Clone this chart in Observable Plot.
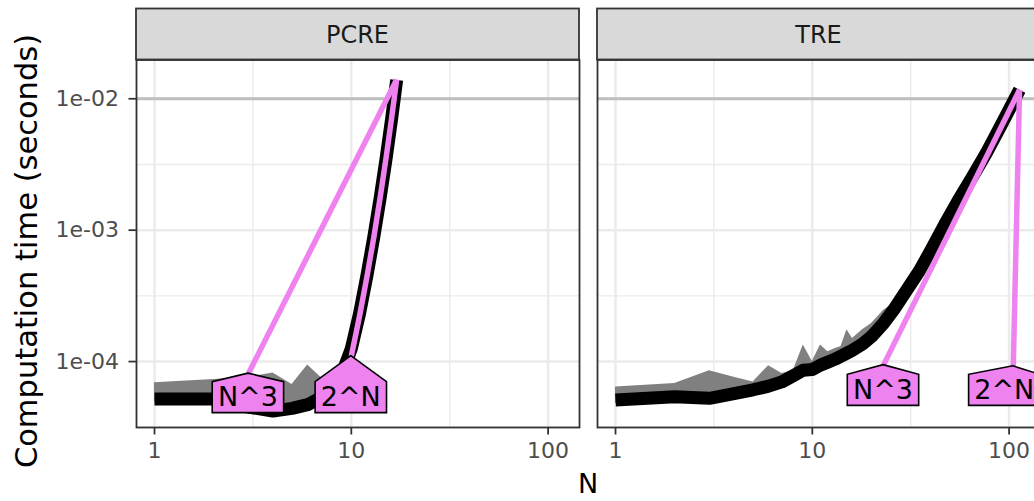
<!DOCTYPE html>
<html><head><meta charset="utf-8">
<script src="https://cdn.jsdelivr.net/npm/d3@7"></script>
<script src="https://cdn.jsdelivr.net/npm/@observablehq/plot@0.6"></script>
<style>
html,body{margin:0;padding:0;background:#fff;overflow:hidden;}
#chart{width:1034px;height:501px;overflow:hidden;}
#chart svg{max-width:none !important;height:501px !important;}
</style></head><body><div id="chart"></div>
<script>
// ---- data ----
const panels = ["PCRE", "TRE"];

const pcreN      = [1, 2, 3, 4, 5, 6, 7, 8, 9, 10, 11, 12, 13, 14, 15, 16, 17];
const pcreMedian = [5.2e-5, 5.2e-5, 4.5e-5, 4.2e-5, 4.4e-5, 4.7e-5, 5.3e-5, 6.3e-5, 8.2e-5, 1.25e-4, 2.3e-4, 4.5e-4, 8.8e-4, 1.74e-3, 3.45e-3, 6.9e-3, 1.39e-2];
const pcreMin    = [4.9e-5, 4.9e-5, 4.3e-5, 4.0e-5, 4.2e-5, 4.4e-5, 5.0e-5, 5.9e-5, 7.8e-5, 1.2e-4, 2.2e-4, 4.35e-4, 8.6e-4, 1.7e-3, 3.4e-3, 6.8e-3, 1.37e-2];
const pcreMax    = [6.9e-5, 7.3e-5, 7.6e-5, 8.2e-5, 6.7e-5, 9.4e-5, 7.6e-5, 7.2e-5, 9.0e-5, 1.35e-4, 2.4e-4, 4.7e-4, 9.1e-4, 1.78e-3, 3.5e-3, 7.0e-3, 1.41e-2];

const treN      = [1, 2, 3, 4, 5, 6, 7, 8, 9, 10, 11, 12, 13, 14, 15, 16, 18, 20, 23, 26, 30, 35, 40, 47, 55, 65, 77, 90, 103, 113];
const treMedian = [5.1e-5, 5.4e-5, 5.25e-5, 5.7e-5, 6.1e-5, 6.5e-5, 7.0e-5, 7.8e-5, 8.6e-5, 8.7e-5, 9.4e-5, 9.9e-5, 1.04e-4, 1.1e-4, 1.16e-4, 1.22e-4, 1.36e-4, 1.55e-4, 1.95e-4, 2.5e-4, 3.45e-4, 4.9e-4, 7.0e-4, 1.1e-3, 1.67e-3, 2.53e-3, 3.92e-3, 6.08e-3, 8.97e-3, 1.17e-2];
const treMin    = [4.8e-5, 5.1e-5, 5.0e-5, 5.4e-5, 5.8e-5, 6.2e-5, 6.6e-5, 7.4e-5, 8.1e-5, 8.2e-5, 8.9e-5, 9.4e-5, 9.9e-5, 1.04e-4, 1.1e-4, 1.16e-4, 1.29e-4, 1.47e-4, 1.85e-4, 2.37e-4, 3.28e-4, 4.65e-4, 6.65e-4, 1.05e-3, 1.59e-3, 2.4e-3, 3.72e-3, 5.78e-3, 8.5e-3, 1.12e-2];
const treMax    = [6.4e-5, 6.8e-5, 8.5e-5, 7.6e-5, 7.0e-5, 9.3e-5, 8.1e-5, 8.5e-5, 1.34e-4, 1.0e-4, 1.34e-4, 1.19e-4, 1.25e-4, 1.3e-4, 1.75e-4, 1.5e-4, 1.75e-4, 1.95e-4, 2.45e-4, 2.8e-4, 3.65e-4, 5.15e-4, 7.3e-4, 1.14e-3, 1.72e-3, 2.6e-3, 4.0e-3, 6.2e-3, 9.1e-3, 1.19e-2];

// asymptotic reference lines
const pcreRefN3N = [3, 17];
const pcreRefN3T = [8.1e-5, 1.4e-2];
const pcreRef2NN = [10, 11, 12, 13, 14, 15, 16, 17];
const pcreRef2NT = [1.1e-4, 2.2e-4, 4.4e-4, 8.75e-4, 1.75e-3, 3.5e-3, 7.0e-3, 1.4e-2];
const treRefN3N  = [23, 113];
const treRefN3T  = [9.4e-5, 1.17e-2];
const treRef2NN  = [105, 113];
const treRef2NT  = [9.2e-5, 1.17e-2];

const secondsLimit = [0.01];

const xTicks = [1, 10, 100];
const xTickLabels = ["1", "10", "100"];
const yTicks = [1e-4, 1e-3, 1e-2];
const yTickLabels = ["1e-04", "1e-03", "1e-02"];
const xTitle = "N";
const yTitle = "Computation time (seconds)";

// ---- tables built from the arrays ----
const series = [
  ...pcreN.map((n, i) => ({panel: "PCRE", N: n, median: pcreMedian[i], min: pcreMin[i], max: pcreMax[i]})),
  ...treN.map((n, i) => ({panel: "TRE", N: n, median: treMedian[i], min: treMin[i], max: treMax[i]}))
];
const refSets = [
  {panel: "PCRE", fun: "N^3", N: pcreRefN3N, T: pcreRefN3T},
  {panel: "PCRE", fun: "2^N", N: pcreRef2NN, T: pcreRef2NT},
  {panel: "TRE", fun: "N^3", N: treRefN3N, T: treRefN3T},
  {panel: "TRE", fun: "2^N", N: treRef2NN, T: treRef2NT}
];
const refs = refSets.flatMap(s => s.N.map((n, i) => ({panel: s.panel, fun: s.fun, key: s.panel + s.fun, N: n, t: s.T[i]})));
const labels = refSets.map(s => ({panel: s.panel, fun: s.fun, N: s.N[0], t: s.T[0]}));

// minor gridlines: midpoints of decades in log space
const xMinor = [Math.pow(10, 0.5), Math.pow(10, 1.5)];
const yMinor = [Math.pow(10, -4.5), Math.pow(10, -3.5), Math.pow(10, -2.5)];

const FONT = "DejaVu Sans";
const marginLeft = 136, marginTop = 59.5, marginBottom = 74, W = 1040, H = 501;

const chart = Plot.plot({
  width: W, height: H,
  marginLeft, marginRight: 0, marginTop, marginBottom,
  style: {fontFamily: FONT, fontSize: "21px", background: "#fff", maxWidth: "none"},
  fx: {domain: panels, paddingInner: 18 / 461, paddingOuter: 0, axis: null, label: null},
  x: {type: "log", domain: [0.81, 144.4], axis: null},
  y: {type: "log", domain: [3.15e-5, 0.01973], axis: null},
  marks: [
    Plot.ruleX(xMinor, {stroke: "#EBEBEB", strokeWidth: 1.4}),
    Plot.ruleY(yMinor, {stroke: "#EBEBEB", strokeWidth: 1.4}),
    Plot.ruleX(xTicks, {stroke: "#EBEBEB", strokeWidth: 2.5}),
    Plot.ruleY(yTicks, {stroke: "#EBEBEB", strokeWidth: 2.5}),
    Plot.ruleY(secondsLimit, {stroke: "#BEBEBE", strokeWidth: 3}),
    Plot.areaY(series, {fx: "panel", x: "N", y1: "min", y2: "max", fill: "#808080"}),
    Plot.line(series, {fx: "panel", x: "N", y: "median", stroke: "black", strokeWidth: 13, strokeLinecap: "butt", strokeLinejoin: "round"}),
    Plot.line(refs, {fx: "panel", x: "N", y: "t", z: "key", stroke: "violet", strokeWidth: 5.5, strokeLinecap: "butt", strokeLinejoin: "round"}),
    Plot.frame({stroke: "#333333", strokeWidth: 1.8}),
    Plot.axisX({ticks: xTicks, tickFormat: d => xTickLabels[xTicks.indexOf(d)], tickSize: 7.5, tickPadding: 7,
      stroke: "#333333", strokeWidth: 1.8, fill: "#4D4D4D", fontSize: 22, label: null}),
    Plot.axisY({ticks: yTicks, tickFormat: d => yTickLabels[yTicks.indexOf(d)], tickSize: 7.5, tickPadding: 10,
      stroke: "#333333", strokeWidth: 1.8, fill: "#4D4D4D", fontSize: 22, label: null})
  ]
});
document.getElementById("chart").appendChild(chart);

// ---- strips, titles and polygon labels, placed with Plot's own scales ----
const svg = d3.select(chart);
const fx = chart.scale("fx"), xs = chart.scale("x"), ys = chart.scale("y");
const bw = fx.bandwidth;
const px = (panel, n) => fx.apply(panel) + xs.apply(n) - xs.range[0];
const py = t => ys.apply(t);

const deco = svg.append("g");
panels.forEach(p => {
  const x0 = fx.apply(p);
  deco.append("rect").attr("x", x0).attr("y", 8.5).attr("width", bw).attr("height", marginTop - 8.5)
    .attr("fill", "#D9D9D9").attr("stroke", "#333333").attr("stroke-width", 1.8);
  deco.append("text").attr("x", x0 + bw / 2).attr("y", 42.5).attr("text-anchor", "middle")
    .attr("font-family", FONT).attr("font-size", 24).attr("fill", "#1A1A1A").text(p);
});
svg.append("text").attr("x", (marginLeft + W) / 2).attr("y", 493).attr("text-anchor", "middle")
  .attr("font-family", FONT).attr("font-size", 27).attr("fill", "black").text(xTitle);
const yMid = 251;
svg.append("text").attr("transform", `translate(37,${yMid}) rotate(-90)`).attr("text-anchor", "middle")
  .attr("font-family", FONT).attr("font-size", 30.5).attr("fill", "black").text(yTitle);

// directlabels-style polygons: apex on the first point of each reference line,
// boxes of a panel aligned, and kept inside the panel
const lab = svg.append("g");
panels.forEach(p => {
  const left = fx.apply(p), right = left + bw;
  const ls = labels.filter(d => d.panel === p).map(d => ({...d, ax: px(p, d.N), ay: py(d.t)}));
  const shoulder = d3.max(ls, d => d.ay) + 8.5;
  const bottom = shoulder + 31;
  const hw = 35.7;
  ls.forEach(d => {
    const cx = Math.max(left + hw, Math.min(right - hw, d.ax));
    const pts = [[d.ax, d.ay], [cx + hw, shoulder], [cx + hw, bottom], [cx - hw, bottom], [cx - hw, shoulder]];
    lab.append("polygon").attr("points", pts.map(q => q.join(",")).join(" "))
      .attr("fill", "violet").attr("stroke", "black").attr("stroke-width", 1.6).attr("stroke-linejoin", "miter");
    lab.append("text").attr("x", cx).attr("y", bottom - 6.5).attr("text-anchor", "middle")
      .attr("font-family", FONT).attr("font-size", 27).attr("fill", "black").text(d.fun);
  });
});
</script></body></html>
